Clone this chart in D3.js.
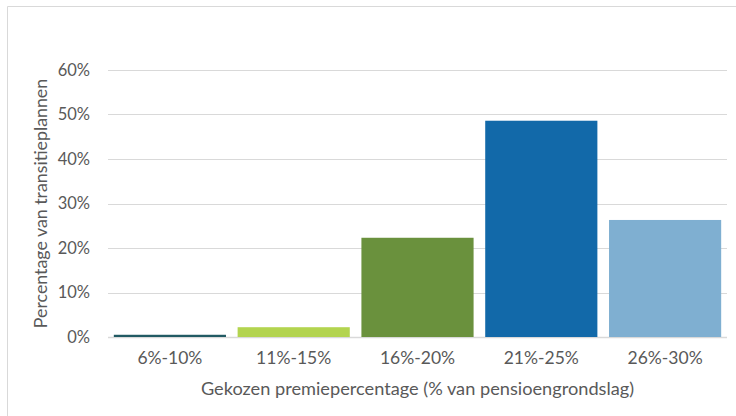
<!DOCTYPE html><html><head><meta charset="UTF-8"><script src="https://d3js.org/d3.v7.min.js"></script><style>
body { margin: 0; background: #fff; }
#chart { width: 736px; height: 416px; font-family: Lato, "Open Sans", sans-serif; }
</style></head><body><div id="chart"></div><script>
const categories = ['6%-10%', '11%-15%', '16%-20%', '21%-25%', '26%-30%'];
const values = [0.5, 2.2, 22.3, 48.6, 26.3];
const colors = ['#215a63', '#b3d44f', '#6a913d', '#1269a9', '#7fafd1'];
const yTicks = [0, 10, 20, 30, 40, 50, 60];

const fullWidth = 736, fullHeight = 416;
const margin = {top: 70, right: 9, bottom: 79, left: 108};
const width = fullWidth - margin.left - margin.right;
const height = fullHeight - margin.top - margin.bottom;

const root = d3.select('#chart').append('svg')
    .attr('width', fullWidth)
    .attr('height', fullHeight);

// outer chart border (only top and left visible)
root.append('path')
    .attr('d', `M7.5,${fullHeight} V6.5 H${fullWidth}`)
    .attr('fill', 'none')
    .attr('stroke', '#d9d9d9')
    .attr('stroke-width', 1);

const svg = root.append('g').attr('transform', `translate(${margin.left},${margin.top})`);

const x = d3.scaleBand().domain(categories).range([0, width]).paddingInner(0.094).paddingOuter(0.047);
const y = d3.scaleLinear().domain([0, 60]).range([height, 0]);

svg.append('g')
    .selectAll('line')
    .data(yTicks)
    .enter().append('line')
    .attr('x1', 0)
    .attr('x2', width)
    .attr('y1', d => Math.round(y(d)) + 0.5)
    .attr('y2', d => Math.round(y(d)) + 0.5)
    .attr('stroke', '#d9d9d9')
    .attr('stroke-width', d => d === 0 ? 1.5 : 1.2);

svg.append('g')
    .selectAll('text')
    .data(yTicks)
    .enter().append('text')
    .attr('x', -18)
    .attr('y', d => y(d))
    .attr('dy', '0.35em')
    .attr('text-anchor', 'end')
    .attr('font-size', 16.5)
    .attr('fill', '#595959')
    .text(d => d + '%');

svg.append('g')
    .selectAll('rect')
    .data(values)
    .enter().append('rect')
    .attr('x', (d, i) => x(categories[i]))
    .attr('y', d => y(d))
    .attr('width', x.bandwidth())
    .attr('height', d => y(0) - y(d))
    .attr('fill', (d, i) => colors[i]);

svg.append('g')
    .selectAll('text')
    .data(categories)
    .enter().append('text')
    .attr('x', d => x(d) + x.bandwidth() / 2)
    .attr('y', height + 27)
    .attr('text-anchor', 'middle')
    .attr('font-size', 17.5)
    .attr('fill', '#595959')
    .text(d => d);

svg.append('text')
    .attr('x', width / 2)
    .attr('y', height + 58)
    .attr('text-anchor', 'middle')
    .attr('font-size', 18.2)
    .attr('fill', '#595959')
    .text('Gekozen premiepercentage (% van pensioengrondslag)');

svg.append('text')
    .attr('transform', `translate(-61,${height / 2}) rotate(-90)`)
    .attr('text-anchor', 'middle')
    .attr('font-size', 17.8)
    .attr('fill', '#595959')
    .text('Percentage van transitieplannen');
</script></body></html>
